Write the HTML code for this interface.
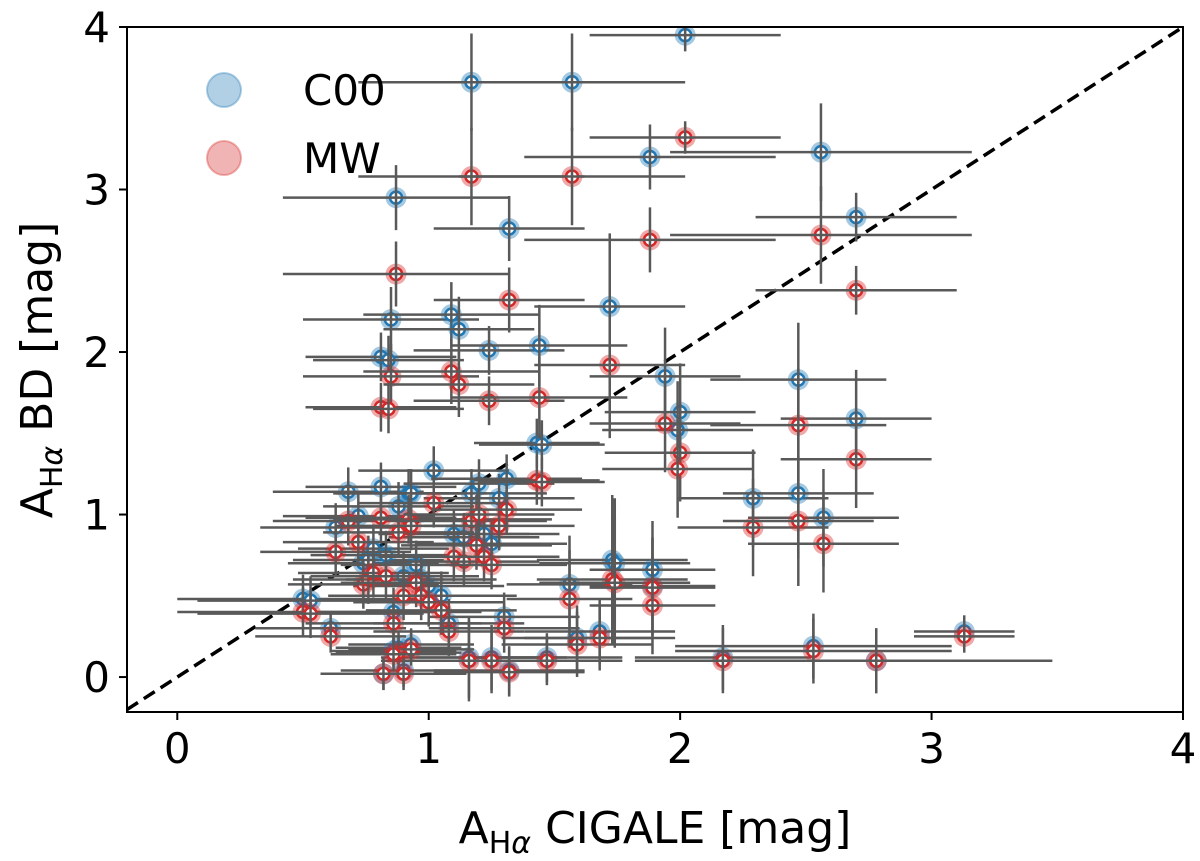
<!DOCTYPE html>
<html><head><meta charset="utf-8"><style>
body{margin:0;background:#fff}
svg text{font-family:"DejaVu Sans","Liberation Sans",sans-serif;fill:#000}
</style></head><body>
<svg id="chart" width="1200" height="856" viewBox="0 0 1200 856" xmlns="http://www.w3.org/2000/svg">
<g id="marks"></g>
<rect x="127" y="27" width="1056" height="685" fill="none" stroke="#000" stroke-width="2"/>
<g id="axes"></g>
<g>
 <circle cx="224" cy="90" r="17" fill="#1f77b4" fill-opacity="0.35" stroke="#1f77b4" stroke-opacity="0.35" stroke-width="2"/>
 <text x="303" y="105" font-size="42">C00</text>
 <circle cx="224" cy="158" r="17" fill="#d62728" fill-opacity="0.35" stroke="#d62728" stroke-opacity="0.35" stroke-width="2"/>
 <text x="303" y="173" font-size="42">MW</text>
</g>
<text x="655" y="843" font-size="44" text-anchor="middle">A<tspan font-size="30" dy="10">H<tspan font-style="italic">α</tspan></tspan><tspan dy="-10"> CIGALE [mag]</tspan></text>
<text transform="translate(52,370) rotate(-90)" font-size="44" text-anchor="middle">A<tspan font-size="30" dy="10">H<tspan font-style="italic">α</tspan></tspan><tspan dy="-10"> BD [mag]</tspan></text>
</svg>
<script>
const xVals=[2.02,1.17,1.57,1.88,2.56,2.70,0.87,1.32,0.85,1.72,1.09,1.12,1.24,1.44,0.81,0.84,1.94,2.0,1.99,2.47,2.70,1.43,1.45,2.29,2.47,2.57,3.13,2.17,2.53,2.78,1.73,1.74,1.89,1.89,1.56,1.59,1.68,1.47,1.32,1.25,1.16,
0.50,0.53,0.61,0.63,0.68,0.72,0.74,0.76,0.78,0.81,0.83,0.86,0.88,0.90,0.92,0.93,0.95,0.97,1.0,1.02,1.05,1.08,1.1,1.14,1.17,1.19,1.2,1.22,1.25,1.28,1.3,1.31,0.82,0.88,0.9,0.93,0.86];
const c00Vals=[3.95,3.66,3.66,3.2,3.23,2.83,2.95,2.76,2.2,2.28,2.23,2.14,2.01,2.04,1.97,1.95,1.85,1.63,1.52,1.83,1.59,1.44,1.43,1.1,1.13,0.98,0.28,0.12,0.19,0.1,0.72,0.70,0.66,0.56,0.57,0.24,0.28,0.12,0.04,0.12,0.12,
0.48,0.47,0.3,0.92,1.14,0.99,0.7,0.72,0.79,1.17,0.75,0.4,1.05,0.62,1.13,1.13,0.69,0.6,0.56,1.27,0.5,0.33,0.88,0.86,1.13,0.97,1.19,0.88,0.82,1.1,0.37,1.22,0.02,0.18,0.04,0.2,0.16];
const mwVals=[3.32,3.08,3.08,2.69,2.72,2.38,2.48,2.32,1.85,1.92,1.88,1.8,1.7,1.72,1.66,1.65,1.56,1.38,1.28,1.55,1.34,1.21,1.2,0.92,0.96,0.82,0.25,0.1,0.16,0.1,0.6,0.58,0.55,0.44,0.48,0.2,0.24,0.1,0.03,0.1,0.1,
0.40,0.39,0.25,0.77,0.96,0.83,0.57,0.6,0.64,0.98,0.62,0.33,0.89,0.5,0.97,0.93,0.58,0.5,0.46,1.07,0.41,0.28,0.74,0.71,0.96,0.81,1.0,0.74,0.69,0.93,0.3,1.03,0.02,0.15,0.02,0.17,0.14];
const xErrs=[0.38,0.45,0.45,0.5,0.6,0.4,0.45,0.3,0.35,0.3,0.35,0.3,0.3,0.35,0.3,0.3,0.3,0.3,0.3,0.35,0.3,0.25,0.25,0.3,0.3,0.3,0.2,0.35,0.55,0.7,0.3,0.3,0.25,0.25,0.25,0.3,0.3,0.3,0.3,0.3,0.35,
0.5,0.45,0.3,0.3,0.3,0.3,0.3,0.3,0.3,0.3,0.3,0.35,0.3,0.3,0.3,0.3,0.3,0.3,0.3,0.3,0.3,0.3,0.3,0.3,0.3,0.3,0.3,0.3,0.3,0.3,0.3,0.3,0.25,0.25,0.25,0.25,0.25];
const yErrs=[0.1,0.3,0.3,0.2,0.3,0.15,0.2,0.2,0.2,0.45,0.2,0.2,0.15,0.25,0.15,0.15,0.3,0.3,0.3,0.35,0.3,0.15,0.15,0.3,0.4,0.3,0.1,0.2,0.2,0.2,0.4,0.4,0.3,0.3,0.3,0.2,0.2,0.15,0.15,0.2,0.25,
0.15,0.15,0.1,0.15,0.15,0.15,0.15,0.15,0.15,0.15,0.15,0.15,0.15,0.15,0.15,0.15,0.15,0.15,0.15,0.15,0.15,0.15,0.15,0.15,0.15,0.15,0.15,0.15,0.15,0.15,0.15,0.15,0.1,0.1,0.1,0.1,0.1];
const tickVals=[0,1,2,3,4];
const tickLabels=["0","1","2","3","4"];
const X0=-0.2,X1=4,Y0=-0.215,Y1=4;
function sx(v){return 127+(v-X0)/(X1-X0)*1056;}
function sy(v){return 712-(v-Y0)/(Y1-Y0)*685;}
const NS="http://www.w3.org/2000/svg";
const marks=document.getElementById('marks'),axes=document.getElementById('axes');
function mk(p,tag,at){const e=document.createElementNS(NS,tag);for(const k in at)e.setAttribute(k,at[k]);p.appendChild(e);return e;}
const clip=mk(marks,'clipPath',{id:'cp'});mk(clip,'rect',{x:127,y:27,width:1056,height:685});
const g=mk(marks,'g',{'clip-path':'url(#cp)'});
const diag=mk(g,'line',{x1:sx(X0),y1:sy(X0),x2:sx(4),y2:sy(4),stroke:'#000','stroke-width':3.5,'stroke-dasharray':'13,7'});


function series(vals,color,name){
 for(let i=0;i<xVals.length;i++){
  const x=sx(xVals[i]),y=sy(vals[i]);
  const h=mk(g,'circle',{cx:x,cy:y,r:10.5,fill:color,'fill-opacity':0.4});
  
  
  mk(g,'circle',{cx:x,cy:y,r:6,fill:'#fff',stroke:color,'stroke-width':2.5});
  const ex=mk(g,'line',{x1:sx(xVals[i]-xErrs[i]),x2:sx(xVals[i]+xErrs[i]),y1:y,y2:y,stroke:'#595959','stroke-width':2.5});
  
  
  const ey=mk(g,'line',{x1:x,x2:x,y1:sy(vals[i]-yErrs[i]),y2:sy(vals[i]+yErrs[i]),stroke:'#595959','stroke-width':2.5});
  
  
 }
}
series(c00Vals,'#1f77b4','c00');
series(mwVals,'#d62728','mw');
tickVals.forEach((v,i)=>{
 const tx=mk(axes,'line',{x1:sx(v),x2:sx(v),y1:712,y2:720,stroke:'#000','stroke-width':2});
 
 
 const lx=mk(axes,'text',{x:sx(v),y:763,'font-size':42,'text-anchor':'middle'});lx.textContent=tickLabels[i];
 
 
 const ty=mk(axes,'line',{x1:119,x2:127,y1:sy(v),y2:sy(v),stroke:'#000','stroke-width':2});
 
 
 const ly=mk(axes,'text',{x:110,y:sy(v)+15,'font-size':42,'text-anchor':'end'});ly.textContent=tickLabels[i];
 
 
});
</script>
</body></html>
